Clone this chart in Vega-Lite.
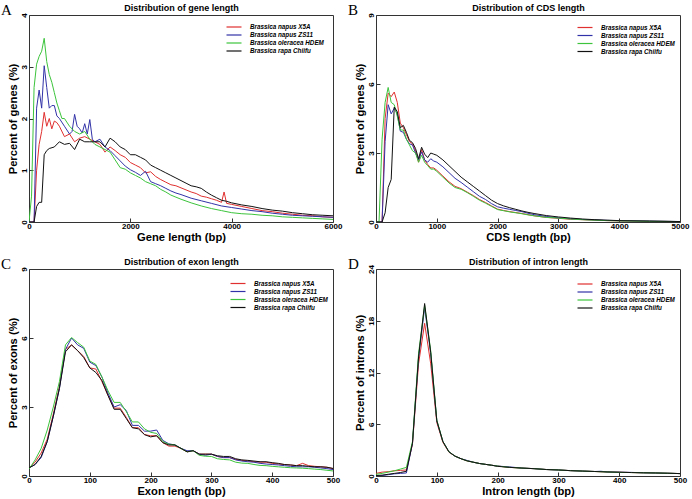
{
  "$schema": "https://vega.github.io/schema/vega-lite/v6.json",
  "background": "white",
  "padding": {"left": 0, "top": 2, "right": 5, "bottom": 5},
  "config": {
    "font": "Liberation Sans",
    "view": {"stroke": "#333333", "strokeWidth": 1},
    "axis": {"labelFont": "Liberation Sans", "labelFontWeight": "bold", "labelFontSize": 8, "labelColor": "#000000", "titleFont": "Liberation Sans", "titleFontWeight": "bold", "titleFontSize": 11.2, "titleColor": "#000000", "grid": false, "domain": false, "tickSize": -4, "tickColor": "#333333", "labelPadding": 4, "labelFlush": false, "labelOverlap": false, "format": "d"},
    "axisY": {"labelAngle": -90, "labelAlign": "center", "labelBaseline": "bottom", "labelPadding": 4.5, "titlePadding": 2},
    "axisX": {"titlePadding": 1},
    "legend": {"orient": "none", "symbolType": "M-2.5,0L2.5,0", "symbolStrokeWidth": 1.2, "symbolSize": 36, "labelFont": "Liberation Sans", "labelFontSize": 6.3, "labelFontWeight": "bold", "labelFontStyle": "italic", "labelColor": "#000000", "padding": 0, "rowPadding": -0.5, "labelOffset": 12},
    "title": {"font": "Liberation Serif", "fontWeight": "normal", "fontSize": 15, "color": "#000000", "anchor": "start", "frame": "group", "offset": 0, "dx": -28, "dy": 18}
  },
  "datasets": {
    "gene": [
      {"s":"X5A","x":0,"y":0},{"s":"X5A","x":100,"y":0},{"s":"X5A","x":150,"y":1.0},{"s":"X5A","x":200,"y":1.5},{"s":"X5A","x":250,"y":1.75},{"s":"X5A","x":300,"y":2.12},{"s":"X5A","x":350,"y":1.85},{"s":"X5A","x":400,"y":2.0},{"s":"X5A","x":450,"y":1.8},{"s":"X5A","x":500,"y":1.95},{"s":"X5A","x":550,"y":1.92},{"s":"X5A","x":600,"y":1.85},{"s":"X5A","x":700,"y":1.65},{"s":"X5A","x":800,"y":1.7},{"s":"X5A","x":900,"y":1.55},{"s":"X5A","x":1000,"y":1.62},{"s":"X5A","x":1100,"y":1.65},{"s":"X5A","x":1200,"y":1.6},{"s":"X5A","x":1300,"y":1.55},{"s":"X5A","x":1400,"y":1.5},{"s":"X5A","x":1500,"y":1.35},{"s":"X5A","x":1600,"y":1.45},{"s":"X5A","x":1700,"y":1.38},{"s":"X5A","x":1800,"y":1.3},{"s":"X5A","x":1900,"y":1.25},{"s":"X5A","x":2000,"y":1.15},{"s":"X5A","x":2100,"y":1.1},{"s":"X5A","x":2200,"y":1.05},{"s":"X5A","x":2300,"y":0.95},{"s":"X5A","x":2400,"y":0.97},{"s":"X5A","x":2500,"y":0.88},{"s":"X5A","x":2600,"y":0.82},{"s":"X5A","x":2700,"y":0.77},{"s":"X5A","x":2800,"y":0.72},{"s":"X5A","x":2900,"y":0.7},{"s":"X5A","x":3000,"y":0.66},{"s":"X5A","x":3100,"y":0.62},{"s":"X5A","x":3200,"y":0.58},{"s":"X5A","x":3300,"y":0.55},{"s":"X5A","x":3400,"y":0.5},{"s":"X5A","x":3500,"y":0.48},{"s":"X5A","x":3600,"y":0.45},{"s":"X5A","x":3700,"y":0.42},{"s":"X5A","x":3800,"y":0.38},{"s":"X5A","x":3850,"y":0.58},{"s":"X5A","x":3900,"y":0.36},{"s":"X5A","x":4000,"y":0.34},{"s":"X5A","x":4200,"y":0.3},{"s":"X5A","x":4400,"y":0.26},{"s":"X5A","x":4600,"y":0.22},{"s":"X5A","x":4800,"y":0.2},{"s":"X5A","x":5000,"y":0.17},{"s":"X5A","x":5200,"y":0.15},{"s":"X5A","x":5400,"y":0.13},{"s":"X5A","x":5600,"y":0.12},{"s":"X5A","x":5800,"y":0.1},{"s":"X5A","x":6000,"y":0.09},
      {"s":"ZS11","x":0,"y":0},{"s":"ZS11","x":100,"y":0},{"s":"ZS11","x":150,"y":2.2},{"s":"ZS11","x":200,"y":2.55},{"s":"ZS11","x":250,"y":2.2},{"s":"ZS11","x":300,"y":3.02},{"s":"ZS11","x":350,"y":2.6},{"s":"ZS11","x":400,"y":2.2},{"s":"ZS11","x":450,"y":2.25},{"s":"ZS11","x":500,"y":2.25},{"s":"ZS11","x":550,"y":2.05},{"s":"ZS11","x":600,"y":2.0},{"s":"ZS11","x":700,"y":1.85},{"s":"ZS11","x":800,"y":1.7},{"s":"ZS11","x":850,"y":1.75},{"s":"ZS11","x":900,"y":2.08},{"s":"ZS11","x":950,"y":1.85},{"s":"ZS11","x":1000,"y":1.8},{"s":"ZS11","x":1050,"y":1.72},{"s":"ZS11","x":1100,"y":1.9},{"s":"ZS11","x":1150,"y":1.7},{"s":"ZS11","x":1200,"y":1.98},{"s":"ZS11","x":1250,"y":1.6},{"s":"ZS11","x":1300,"y":1.55},{"s":"ZS11","x":1400,"y":1.6},{"s":"ZS11","x":1500,"y":1.45},{"s":"ZS11","x":1600,"y":1.38},{"s":"ZS11","x":1700,"y":1.28},{"s":"ZS11","x":1800,"y":1.18},{"s":"ZS11","x":1900,"y":1.08},{"s":"ZS11","x":2000,"y":1.01},{"s":"ZS11","x":2100,"y":0.96},{"s":"ZS11","x":2200,"y":0.9},{"s":"ZS11","x":2300,"y":0.98},{"s":"ZS11","x":2400,"y":0.78},{"s":"ZS11","x":2500,"y":0.74},{"s":"ZS11","x":2600,"y":0.7},{"s":"ZS11","x":2700,"y":0.65},{"s":"ZS11","x":2800,"y":0.6},{"s":"ZS11","x":2900,"y":0.56},{"s":"ZS11","x":3000,"y":0.53},{"s":"ZS11","x":3200,"y":0.46},{"s":"ZS11","x":3400,"y":0.41},{"s":"ZS11","x":3600,"y":0.36},{"s":"ZS11","x":3800,"y":0.31},{"s":"ZS11","x":4000,"y":0.28},{"s":"ZS11","x":4200,"y":0.25},{"s":"ZS11","x":4400,"y":0.22},{"s":"ZS11","x":4600,"y":0.2},{"s":"ZS11","x":4800,"y":0.17},{"s":"ZS11","x":5000,"y":0.15},{"s":"ZS11","x":5200,"y":0.13},{"s":"ZS11","x":5400,"y":0.12},{"s":"ZS11","x":5600,"y":0.11},{"s":"ZS11","x":5800,"y":0.1},{"s":"ZS11","x":6000,"y":0.09},
      {"s":"HDEM","x":0,"y":0},{"s":"HDEM","x":50,"y":0.5},{"s":"HDEM","x":100,"y":2.6},{"s":"HDEM","x":150,"y":3.05},{"s":"HDEM","x":200,"y":3.2},{"s":"HDEM","x":250,"y":3.3},{"s":"HDEM","x":300,"y":3.55},{"s":"HDEM","x":350,"y":3.1},{"s":"HDEM","x":400,"y":2.85},{"s":"HDEM","x":450,"y":2.7},{"s":"HDEM","x":500,"y":2.5},{"s":"HDEM","x":550,"y":2.3},{"s":"HDEM","x":600,"y":2.15},{"s":"HDEM","x":650,"y":2.0},{"s":"HDEM","x":700,"y":2.0},{"s":"HDEM","x":800,"y":1.85},{"s":"HDEM","x":900,"y":1.75},{"s":"HDEM","x":1000,"y":1.7},{"s":"HDEM","x":1100,"y":1.75},{"s":"HDEM","x":1200,"y":1.6},{"s":"HDEM","x":1300,"y":1.5},{"s":"HDEM","x":1400,"y":1.45},{"s":"HDEM","x":1500,"y":1.4},{"s":"HDEM","x":1600,"y":1.35},{"s":"HDEM","x":1700,"y":1.2},{"s":"HDEM","x":1800,"y":1.05},{"s":"HDEM","x":1900,"y":1.02},{"s":"HDEM","x":2000,"y":0.95},{"s":"HDEM","x":2100,"y":0.9},{"s":"HDEM","x":2200,"y":0.85},{"s":"HDEM","x":2300,"y":0.78},{"s":"HDEM","x":2400,"y":0.74},{"s":"HDEM","x":2500,"y":0.7},{"s":"HDEM","x":2600,"y":0.63},{"s":"HDEM","x":2700,"y":0.58},{"s":"HDEM","x":2800,"y":0.52},{"s":"HDEM","x":2900,"y":0.48},{"s":"HDEM","x":3000,"y":0.44},{"s":"HDEM","x":3200,"y":0.37},{"s":"HDEM","x":3400,"y":0.31},{"s":"HDEM","x":3600,"y":0.26},{"s":"HDEM","x":3800,"y":0.22},{"s":"HDEM","x":4000,"y":0.18},{"s":"HDEM","x":4200,"y":0.16},{"s":"HDEM","x":4400,"y":0.15},{"s":"HDEM","x":4600,"y":0.13},{"s":"HDEM","x":4800,"y":0.12},{"s":"HDEM","x":5000,"y":0.1},{"s":"HDEM","x":5200,"y":0.09},{"s":"HDEM","x":5400,"y":0.08},{"s":"HDEM","x":5600,"y":0.07},{"s":"HDEM","x":5800,"y":0.06},{"s":"HDEM","x":6000,"y":0.05},
      {"s":"Chiifu","x":0,"y":0},{"s":"Chiifu","x":100,"y":0},{"s":"Chiifu","x":150,"y":0.3},{"s":"Chiifu","x":200,"y":0.38},{"s":"Chiifu","x":250,"y":0.38},{"s":"Chiifu","x":300,"y":1.3},{"s":"Chiifu","x":350,"y":1.38},{"s":"Chiifu","x":400,"y":1.42},{"s":"Chiifu","x":500,"y":1.45},{"s":"Chiifu","x":600,"y":1.55},{"s":"Chiifu","x":700,"y":1.5},{"s":"Chiifu","x":800,"y":1.52},{"s":"Chiifu","x":900,"y":1.4},{"s":"Chiifu","x":1000,"y":1.6},{"s":"Chiifu","x":1100,"y":1.55},{"s":"Chiifu","x":1200,"y":1.55},{"s":"Chiifu","x":1300,"y":1.55},{"s":"Chiifu","x":1400,"y":1.55},{"s":"Chiifu","x":1500,"y":1.45},{"s":"Chiifu","x":1600,"y":1.62},{"s":"Chiifu","x":1700,"y":1.55},{"s":"Chiifu","x":1800,"y":1.45},{"s":"Chiifu","x":1900,"y":1.4},{"s":"Chiifu","x":2000,"y":1.3},{"s":"Chiifu","x":2100,"y":1.3},{"s":"Chiifu","x":2200,"y":1.25},{"s":"Chiifu","x":2300,"y":1.2},{"s":"Chiifu","x":2400,"y":1.1},{"s":"Chiifu","x":2500,"y":1.05},{"s":"Chiifu","x":2600,"y":1.0},{"s":"Chiifu","x":2700,"y":0.95},{"s":"Chiifu","x":2800,"y":0.9},{"s":"Chiifu","x":2900,"y":0.85},{"s":"Chiifu","x":3000,"y":0.8},{"s":"Chiifu","x":3100,"y":0.75},{"s":"Chiifu","x":3200,"y":0.7},{"s":"Chiifu","x":3300,"y":0.68},{"s":"Chiifu","x":3400,"y":0.65},{"s":"Chiifu","x":3500,"y":0.58},{"s":"Chiifu","x":3600,"y":0.52},{"s":"Chiifu","x":3700,"y":0.47},{"s":"Chiifu","x":3800,"y":0.42},{"s":"Chiifu","x":3900,"y":0.4},{"s":"Chiifu","x":4000,"y":0.37},{"s":"Chiifu","x":4200,"y":0.33},{"s":"Chiifu","x":4400,"y":0.3},{"s":"Chiifu","x":4600,"y":0.26},{"s":"Chiifu","x":4800,"y":0.23},{"s":"Chiifu","x":5000,"y":0.21},{"s":"Chiifu","x":5200,"y":0.18},{"s":"Chiifu","x":5400,"y":0.16},{"s":"Chiifu","x":5600,"y":0.14},{"s":"Chiifu","x":5800,"y":0.13},{"s":"Chiifu","x":6000,"y":0.12}
    ],
    "cds": [
      {"s":"X5A","x":0,"y":0},{"s":"X5A","x":100,"y":0},{"s":"X5A","x":150,"y":4.5},{"s":"X5A","x":200,"y":5.6},{"s":"X5A","x":250,"y":5.45},{"s":"X5A","x":300,"y":5.65},{"s":"X5A","x":350,"y":5.2},{"s":"X5A","x":400,"y":4.3},{"s":"X5A","x":450,"y":4.1},{"s":"X5A","x":500,"y":3.8},{"s":"X5A","x":550,"y":3.5},{"s":"X5A","x":600,"y":3.4},{"s":"X5A","x":650,"y":3.1},{"s":"X5A","x":700,"y":2.6},{"s":"X5A","x":750,"y":3.15},{"s":"X5A","x":800,"y":2.7},{"s":"X5A","x":850,"y":2.5},{"s":"X5A","x":900,"y":2.35},{"s":"X5A","x":950,"y":2.35},{"s":"X5A","x":1000,"y":2.25},{"s":"X5A","x":1100,"y":2.0},{"s":"X5A","x":1200,"y":1.75},{"s":"X5A","x":1300,"y":1.55},{"s":"X5A","x":1400,"y":1.45},{"s":"X5A","x":1500,"y":1.3},{"s":"X5A","x":1600,"y":1.15},{"s":"X5A","x":1700,"y":0.98},{"s":"X5A","x":1800,"y":0.85},{"s":"X5A","x":1900,"y":0.7},{"s":"X5A","x":2000,"y":0.56},{"s":"X5A","x":2100,"y":0.5},{"s":"X5A","x":2200,"y":0.45},{"s":"X5A","x":2300,"y":0.41},{"s":"X5A","x":2400,"y":0.37},{"s":"X5A","x":2500,"y":0.32},{"s":"X5A","x":2600,"y":0.27},{"s":"X5A","x":2800,"y":0.2},{"s":"X5A","x":3000,"y":0.16},{"s":"X5A","x":3200,"y":0.12},{"s":"X5A","x":3400,"y":0.1},{"s":"X5A","x":3600,"y":0.08},{"s":"X5A","x":3800,"y":0.06},{"s":"X5A","x":4000,"y":0.05},{"s":"X5A","x":4500,"y":0.03},{"s":"X5A","x":5000,"y":0.02},
      {"s":"ZS11","x":0,"y":0},{"s":"ZS11","x":100,"y":0},{"s":"ZS11","x":150,"y":3.5},{"s":"ZS11","x":200,"y":5.1},{"s":"ZS11","x":250,"y":4.7},{"s":"ZS11","x":300,"y":4.95},{"s":"ZS11","x":350,"y":4.7},{"s":"ZS11","x":400,"y":3.95},{"s":"ZS11","x":450,"y":3.9},{"s":"ZS11","x":500,"y":3.6},{"s":"ZS11","x":550,"y":3.4},{"s":"ZS11","x":600,"y":3.35},{"s":"ZS11","x":650,"y":3.0},{"s":"ZS11","x":700,"y":2.7},{"s":"ZS11","x":750,"y":3.05},{"s":"ZS11","x":800,"y":2.7},{"s":"ZS11","x":850,"y":2.6},{"s":"ZS11","x":900,"y":2.75},{"s":"ZS11","x":950,"y":2.65},{"s":"ZS11","x":1000,"y":2.6},{"s":"ZS11","x":1100,"y":2.4},{"s":"ZS11","x":1200,"y":2.15},{"s":"ZS11","x":1300,"y":1.9},{"s":"ZS11","x":1400,"y":1.72},{"s":"ZS11","x":1500,"y":1.52},{"s":"ZS11","x":1600,"y":1.32},{"s":"ZS11","x":1700,"y":1.12},{"s":"ZS11","x":1800,"y":0.98},{"s":"ZS11","x":1900,"y":0.8},{"s":"ZS11","x":2000,"y":0.66},{"s":"ZS11","x":2100,"y":0.6},{"s":"ZS11","x":2200,"y":0.55},{"s":"ZS11","x":2300,"y":0.5},{"s":"ZS11","x":2400,"y":0.45},{"s":"ZS11","x":2500,"y":0.38},{"s":"ZS11","x":2600,"y":0.32},{"s":"ZS11","x":2800,"y":0.24},{"s":"ZS11","x":3000,"y":0.18},{"s":"ZS11","x":3200,"y":0.14},{"s":"ZS11","x":3400,"y":0.11},{"s":"ZS11","x":3600,"y":0.09},{"s":"ZS11","x":3800,"y":0.07},{"s":"ZS11","x":4000,"y":0.06},{"s":"ZS11","x":4500,"y":0.04},{"s":"ZS11","x":5000,"y":0.02},
      {"s":"HDEM","x":0,"y":0},{"s":"HDEM","x":50,"y":0},{"s":"HDEM","x":100,"y":3.6},{"s":"HDEM","x":150,"y":5.2},{"s":"HDEM","x":200,"y":5.85},{"s":"HDEM","x":250,"y":5.2},{"s":"HDEM","x":300,"y":5.1},{"s":"HDEM","x":350,"y":4.6},{"s":"HDEM","x":400,"y":4.0},{"s":"HDEM","x":450,"y":4.0},{"s":"HDEM","x":500,"y":3.6},{"s":"HDEM","x":550,"y":3.35},{"s":"HDEM","x":600,"y":3.1},{"s":"HDEM","x":650,"y":3.0},{"s":"HDEM","x":700,"y":2.6},{"s":"HDEM","x":750,"y":2.9},{"s":"HDEM","x":800,"y":2.6},{"s":"HDEM","x":850,"y":2.45},{"s":"HDEM","x":900,"y":2.3},{"s":"HDEM","x":950,"y":2.3},{"s":"HDEM","x":1000,"y":2.2},{"s":"HDEM","x":1100,"y":1.95},{"s":"HDEM","x":1200,"y":1.7},{"s":"HDEM","x":1300,"y":1.5},{"s":"HDEM","x":1400,"y":1.42},{"s":"HDEM","x":1500,"y":1.28},{"s":"HDEM","x":1600,"y":1.12},{"s":"HDEM","x":1700,"y":0.95},{"s":"HDEM","x":1800,"y":0.82},{"s":"HDEM","x":1900,"y":0.68},{"s":"HDEM","x":2000,"y":0.54},{"s":"HDEM","x":2100,"y":0.49},{"s":"HDEM","x":2200,"y":0.44},{"s":"HDEM","x":2300,"y":0.4},{"s":"HDEM","x":2400,"y":0.36},{"s":"HDEM","x":2500,"y":0.31},{"s":"HDEM","x":2600,"y":0.27},{"s":"HDEM","x":2800,"y":0.2},{"s":"HDEM","x":3000,"y":0.17},{"s":"HDEM","x":3200,"y":0.13},{"s":"HDEM","x":3400,"y":0.1},{"s":"HDEM","x":3600,"y":0.08},{"s":"HDEM","x":3800,"y":0.06},{"s":"HDEM","x":4000,"y":0.05},{"s":"HDEM","x":4500,"y":0.03},{"s":"HDEM","x":5000,"y":0.02},
      {"s":"Chiifu","x":0,"y":0},{"s":"Chiifu","x":100,"y":0},{"s":"Chiifu","x":150,"y":0.4},{"s":"Chiifu","x":200,"y":1.5},{"s":"Chiifu","x":250,"y":1.85},{"s":"Chiifu","x":300,"y":5.0},{"s":"Chiifu","x":350,"y":4.8},{"s":"Chiifu","x":400,"y":4.1},{"s":"Chiifu","x":450,"y":4.2},{"s":"Chiifu","x":500,"y":3.9},{"s":"Chiifu","x":550,"y":3.55},{"s":"Chiifu","x":600,"y":3.45},{"s":"Chiifu","x":650,"y":3.2},{"s":"Chiifu","x":700,"y":2.75},{"s":"Chiifu","x":750,"y":3.25},{"s":"Chiifu","x":800,"y":2.95},{"s":"Chiifu","x":850,"y":2.8},{"s":"Chiifu","x":900,"y":3.0},{"s":"Chiifu","x":950,"y":2.95},{"s":"Chiifu","x":1000,"y":2.9},{"s":"Chiifu","x":1100,"y":2.7},{"s":"Chiifu","x":1200,"y":2.45},{"s":"Chiifu","x":1300,"y":2.2},{"s":"Chiifu","x":1400,"y":1.95},{"s":"Chiifu","x":1500,"y":1.75},{"s":"Chiifu","x":1600,"y":1.55},{"s":"Chiifu","x":1700,"y":1.35},{"s":"Chiifu","x":1800,"y":1.15},{"s":"Chiifu","x":1900,"y":0.95},{"s":"Chiifu","x":2000,"y":0.8},{"s":"Chiifu","x":2100,"y":0.7},{"s":"Chiifu","x":2200,"y":0.62},{"s":"Chiifu","x":2300,"y":0.55},{"s":"Chiifu","x":2400,"y":0.48},{"s":"Chiifu","x":2500,"y":0.42},{"s":"Chiifu","x":2600,"y":0.37},{"s":"Chiifu","x":2800,"y":0.28},{"s":"Chiifu","x":3000,"y":0.22},{"s":"Chiifu","x":3200,"y":0.17},{"s":"Chiifu","x":3400,"y":0.13},{"s":"Chiifu","x":3600,"y":0.1},{"s":"Chiifu","x":3800,"y":0.08},{"s":"Chiifu","x":4000,"y":0.06},{"s":"Chiifu","x":4500,"y":0.04},{"s":"Chiifu","x":5000,"y":0.02}
    ],
    "exon": [
      {"s":"X5A","x":0,"y":0.35},{"s":"X5A","x":10,"y":0.6},{"s":"X5A","x":20,"y":1.0},{"s":"X5A","x":30,"y":1.6},{"s":"X5A","x":40,"y":2.7},{"s":"X5A","x":50,"y":3.9},{"s":"X5A","x":60,"y":5.5},{"s":"X5A","x":70,"y":5.7},{"s":"X5A","x":80,"y":5.45},{"s":"X5A","x":90,"y":5.2},{"s":"X5A","x":100,"y":4.7},{"s":"X5A","x":110,"y":4.65},{"s":"X5A","x":120,"y":4.1},{"s":"X5A","x":130,"y":3.5},{"s":"X5A","x":140,"y":2.95},{"s":"X5A","x":150,"y":2.95},{"s":"X5A","x":160,"y":2.55},{"s":"X5A","x":170,"y":2.1},{"s":"X5A","x":180,"y":2.1},{"s":"X5A","x":190,"y":1.8},{"s":"X5A","x":200,"y":1.75},{"s":"X5A","x":210,"y":1.75},{"s":"X5A","x":220,"y":1.45},{"s":"X5A","x":230,"y":1.3},{"s":"X5A","x":240,"y":1.3},{"s":"X5A","x":250,"y":1.2},{"s":"X5A","x":260,"y":1.05},{"s":"X5A","x":270,"y":1.1},{"s":"X5A","x":280,"y":0.95},{"s":"X5A","x":290,"y":0.95},{"s":"X5A","x":300,"y":0.95},{"s":"X5A","x":310,"y":0.85},{"s":"X5A","x":320,"y":0.8},{"s":"X5A","x":330,"y":0.8},{"s":"X5A","x":340,"y":0.72},{"s":"X5A","x":350,"y":0.68},{"s":"X5A","x":360,"y":0.65},{"s":"X5A","x":370,"y":0.62},{"s":"X5A","x":380,"y":0.6},{"s":"X5A","x":390,"y":0.6},{"s":"X5A","x":400,"y":0.55},{"s":"X5A","x":410,"y":0.52},{"s":"X5A","x":420,"y":0.5},{"s":"X5A","x":430,"y":0.48},{"s":"X5A","x":440,"y":0.45},{"s":"X5A","x":450,"y":0.55},{"s":"X5A","x":460,"y":0.45},{"s":"X5A","x":470,"y":0.42},{"s":"X5A","x":480,"y":0.4},{"s":"X5A","x":490,"y":0.38},{"s":"X5A","x":500,"y":0.32},
      {"s":"ZS11","x":0,"y":0.35},{"s":"ZS11","x":10,"y":0.5},{"s":"ZS11","x":20,"y":0.8},{"s":"ZS11","x":30,"y":1.5},{"s":"ZS11","x":40,"y":2.6},{"s":"ZS11","x":50,"y":3.8},{"s":"ZS11","x":60,"y":5.5},{"s":"ZS11","x":70,"y":6.0},{"s":"ZS11","x":80,"y":5.7},{"s":"ZS11","x":90,"y":5.55},{"s":"ZS11","x":100,"y":4.95},{"s":"ZS11","x":110,"y":4.8},{"s":"ZS11","x":120,"y":4.3},{"s":"ZS11","x":130,"y":3.6},{"s":"ZS11","x":140,"y":3.0},{"s":"ZS11","x":150,"y":3.1},{"s":"ZS11","x":160,"y":2.85},{"s":"ZS11","x":170,"y":2.2},{"s":"ZS11","x":180,"y":2.2},{"s":"ZS11","x":190,"y":1.95},{"s":"ZS11","x":200,"y":1.95},{"s":"ZS11","x":210,"y":2.0},{"s":"ZS11","x":220,"y":1.55},{"s":"ZS11","x":230,"y":1.4},{"s":"ZS11","x":240,"y":1.35},{"s":"ZS11","x":250,"y":1.2},{"s":"ZS11","x":260,"y":1.1},{"s":"ZS11","x":270,"y":1.1},{"s":"ZS11","x":280,"y":0.95},{"s":"ZS11","x":290,"y":0.9},{"s":"ZS11","x":300,"y":0.95},{"s":"ZS11","x":310,"y":0.85},{"s":"ZS11","x":320,"y":0.8},{"s":"ZS11","x":330,"y":0.8},{"s":"ZS11","x":340,"y":0.7},{"s":"ZS11","x":350,"y":0.65},{"s":"ZS11","x":360,"y":0.62},{"s":"ZS11","x":370,"y":0.6},{"s":"ZS11","x":380,"y":0.55},{"s":"ZS11","x":390,"y":0.52},{"s":"ZS11","x":400,"y":0.5},{"s":"ZS11","x":410,"y":0.48},{"s":"ZS11","x":420,"y":0.45},{"s":"ZS11","x":430,"y":0.42},{"s":"ZS11","x":440,"y":0.4},{"s":"ZS11","x":450,"y":0.4},{"s":"ZS11","x":460,"y":0.4},{"s":"ZS11","x":470,"y":0.38},{"s":"ZS11","x":480,"y":0.35},{"s":"ZS11","x":490,"y":0.32},{"s":"ZS11","x":500,"y":0.28},
      {"s":"HDEM","x":0,"y":0.3},{"s":"HDEM","x":10,"y":0.7},{"s":"HDEM","x":20,"y":1.2},{"s":"HDEM","x":30,"y":2.0},{"s":"HDEM","x":40,"y":3.0},{"s":"HDEM","x":50,"y":4.1},{"s":"HDEM","x":60,"y":5.7},{"s":"HDEM","x":70,"y":6.02},{"s":"HDEM","x":80,"y":5.8},{"s":"HDEM","x":90,"y":5.6},{"s":"HDEM","x":100,"y":5.0},{"s":"HDEM","x":110,"y":4.85},{"s":"HDEM","x":120,"y":4.3},{"s":"HDEM","x":130,"y":3.7},{"s":"HDEM","x":140,"y":3.2},{"s":"HDEM","x":150,"y":3.2},{"s":"HDEM","x":160,"y":2.8},{"s":"HDEM","x":170,"y":2.35},{"s":"HDEM","x":180,"y":2.35},{"s":"HDEM","x":190,"y":2.05},{"s":"HDEM","x":200,"y":1.9},{"s":"HDEM","x":210,"y":1.85},{"s":"HDEM","x":220,"y":1.5},{"s":"HDEM","x":230,"y":1.38},{"s":"HDEM","x":240,"y":1.35},{"s":"HDEM","x":250,"y":1.2},{"s":"HDEM","x":260,"y":1.05},{"s":"HDEM","x":270,"y":1.1},{"s":"HDEM","x":280,"y":0.9},{"s":"HDEM","x":290,"y":0.86},{"s":"HDEM","x":300,"y":0.85},{"s":"HDEM","x":310,"y":0.75},{"s":"HDEM","x":320,"y":0.72},{"s":"HDEM","x":330,"y":0.7},{"s":"HDEM","x":340,"y":0.6},{"s":"HDEM","x":350,"y":0.56},{"s":"HDEM","x":360,"y":0.55},{"s":"HDEM","x":370,"y":0.5},{"s":"HDEM","x":380,"y":0.46},{"s":"HDEM","x":390,"y":0.45},{"s":"HDEM","x":400,"y":0.42},{"s":"HDEM","x":410,"y":0.4},{"s":"HDEM","x":420,"y":0.38},{"s":"HDEM","x":430,"y":0.36},{"s":"HDEM","x":440,"y":0.35},{"s":"HDEM","x":450,"y":0.34},{"s":"HDEM","x":460,"y":0.32},{"s":"HDEM","x":470,"y":0.3},{"s":"HDEM","x":480,"y":0.28},{"s":"HDEM","x":490,"y":0.25},{"s":"HDEM","x":500,"y":0.22},
      {"s":"Chiifu","x":0,"y":0.35},{"s":"Chiifu","x":10,"y":0.5},{"s":"Chiifu","x":20,"y":0.85},{"s":"Chiifu","x":30,"y":1.5},{"s":"Chiifu","x":40,"y":2.6},{"s":"Chiifu","x":50,"y":3.8},{"s":"Chiifu","x":60,"y":5.4},{"s":"Chiifu","x":70,"y":5.7},{"s":"Chiifu","x":80,"y":5.45},{"s":"Chiifu","x":90,"y":5.15},{"s":"Chiifu","x":100,"y":4.7},{"s":"Chiifu","x":110,"y":4.5},{"s":"Chiifu","x":120,"y":4.15},{"s":"Chiifu","x":130,"y":3.5},{"s":"Chiifu","x":140,"y":2.9},{"s":"Chiifu","x":150,"y":2.9},{"s":"Chiifu","x":160,"y":2.5},{"s":"Chiifu","x":170,"y":2.1},{"s":"Chiifu","x":180,"y":2.05},{"s":"Chiifu","x":190,"y":1.8},{"s":"Chiifu","x":200,"y":1.7},{"s":"Chiifu","x":210,"y":1.75},{"s":"Chiifu","x":220,"y":1.45},{"s":"Chiifu","x":230,"y":1.35},{"s":"Chiifu","x":240,"y":1.35},{"s":"Chiifu","x":250,"y":1.2},{"s":"Chiifu","x":260,"y":1.05},{"s":"Chiifu","x":270,"y":1.1},{"s":"Chiifu","x":280,"y":0.95},{"s":"Chiifu","x":290,"y":0.95},{"s":"Chiifu","x":300,"y":0.95},{"s":"Chiifu","x":310,"y":0.88},{"s":"Chiifu","x":320,"y":0.85},{"s":"Chiifu","x":330,"y":0.85},{"s":"Chiifu","x":340,"y":0.75},{"s":"Chiifu","x":350,"y":0.7},{"s":"Chiifu","x":360,"y":0.68},{"s":"Chiifu","x":370,"y":0.65},{"s":"Chiifu","x":380,"y":0.62},{"s":"Chiifu","x":390,"y":0.62},{"s":"Chiifu","x":400,"y":0.58},{"s":"Chiifu","x":410,"y":0.55},{"s":"Chiifu","x":420,"y":0.5},{"s":"Chiifu","x":430,"y":0.48},{"s":"Chiifu","x":440,"y":0.45},{"s":"Chiifu","x":450,"y":0.45},{"s":"Chiifu","x":460,"y":0.42},{"s":"Chiifu","x":470,"y":0.4},{"s":"Chiifu","x":480,"y":0.4},{"s":"Chiifu","x":490,"y":0.38},{"s":"Chiifu","x":500,"y":0.33}
    ],
    "intron": [
      {"s":"X5A","x":0,"y":0.3},{"s":"X5A","x":10,"y":0.45},{"s":"X5A","x":20,"y":0.5},{"s":"X5A","x":30,"y":0.6},{"s":"X5A","x":40,"y":0.65},{"s":"X5A","x":50,"y":0.7},{"s":"X5A","x":60,"y":3.7},{"s":"X5A","x":70,"y":13.0},{"s":"X5A","x":80,"y":17.7},{"s":"X5A","x":90,"y":13.0},{"s":"X5A","x":100,"y":6.2},{"s":"X5A","x":110,"y":3.9},{"s":"X5A","x":120,"y":2.75},{"s":"X5A","x":130,"y":2.3},{"s":"X5A","x":140,"y":2.0},{"s":"X5A","x":150,"y":1.75},{"s":"X5A","x":160,"y":1.6},{"s":"X5A","x":170,"y":1.45},{"s":"X5A","x":180,"y":1.35},{"s":"X5A","x":190,"y":1.25},{"s":"X5A","x":200,"y":1.15},{"s":"X5A","x":220,"y":1.0},{"s":"X5A","x":240,"y":0.92},{"s":"X5A","x":260,"y":0.85},{"s":"X5A","x":280,"y":0.75},{"s":"X5A","x":300,"y":0.7},{"s":"X5A","x":320,"y":0.62},{"s":"X5A","x":340,"y":0.57},{"s":"X5A","x":360,"y":0.52},{"s":"X5A","x":380,"y":0.47},{"s":"X5A","x":400,"y":0.44},{"s":"X5A","x":420,"y":0.4},{"s":"X5A","x":440,"y":0.37},{"s":"X5A","x":460,"y":0.35},{"s":"X5A","x":480,"y":0.32},{"s":"X5A","x":500,"y":0.28},
      {"s":"ZS11","x":0,"y":0},{"s":"ZS11","x":10,"y":0.05},{"s":"ZS11","x":20,"y":0.15},{"s":"ZS11","x":30,"y":0.25},{"s":"ZS11","x":40,"y":0.3},{"s":"ZS11","x":50,"y":0.35},{"s":"ZS11","x":60,"y":3.8},{"s":"ZS11","x":70,"y":13.7},{"s":"ZS11","x":80,"y":19.5},{"s":"ZS11","x":90,"y":14.2},{"s":"ZS11","x":100,"y":6.4},{"s":"ZS11","x":110,"y":4.0},{"s":"ZS11","x":120,"y":2.8},{"s":"ZS11","x":130,"y":2.3},{"s":"ZS11","x":140,"y":2.0},{"s":"ZS11","x":150,"y":1.8},{"s":"ZS11","x":160,"y":1.6},{"s":"ZS11","x":170,"y":1.45},{"s":"ZS11","x":180,"y":1.35},{"s":"ZS11","x":190,"y":1.25},{"s":"ZS11","x":200,"y":1.15},{"s":"ZS11","x":220,"y":1.05},{"s":"ZS11","x":240,"y":0.92},{"s":"ZS11","x":260,"y":0.85},{"s":"ZS11","x":280,"y":0.75},{"s":"ZS11","x":300,"y":0.7},{"s":"ZS11","x":320,"y":0.62},{"s":"ZS11","x":340,"y":0.57},{"s":"ZS11","x":360,"y":0.52},{"s":"ZS11","x":370,"y":0.55},{"s":"ZS11","x":380,"y":0.47},{"s":"ZS11","x":400,"y":0.44},{"s":"ZS11","x":420,"y":0.42},{"s":"ZS11","x":440,"y":0.37},{"s":"ZS11","x":460,"y":0.35},{"s":"ZS11","x":480,"y":0.32},{"s":"ZS11","x":500,"y":0.28},
      {"s":"HDEM","x":0,"y":0.2},{"s":"HDEM","x":10,"y":0.3},{"s":"HDEM","x":20,"y":0.45},{"s":"HDEM","x":30,"y":0.6},{"s":"HDEM","x":40,"y":0.8},{"s":"HDEM","x":50,"y":1.0},{"s":"HDEM","x":60,"y":4.0},{"s":"HDEM","x":70,"y":14.2},{"s":"HDEM","x":80,"y":19.8},{"s":"HDEM","x":90,"y":14.5},{"s":"HDEM","x":100,"y":6.5},{"s":"HDEM","x":110,"y":4.0},{"s":"HDEM","x":120,"y":2.8},{"s":"HDEM","x":130,"y":2.3},{"s":"HDEM","x":140,"y":2.0},{"s":"HDEM","x":150,"y":1.75},{"s":"HDEM","x":160,"y":1.6},{"s":"HDEM","x":170,"y":1.45},{"s":"HDEM","x":180,"y":1.35},{"s":"HDEM","x":190,"y":1.25},{"s":"HDEM","x":200,"y":1.15},{"s":"HDEM","x":220,"y":1.0},{"s":"HDEM","x":240,"y":0.92},{"s":"HDEM","x":260,"y":0.85},{"s":"HDEM","x":280,"y":0.75},{"s":"HDEM","x":300,"y":0.7},{"s":"HDEM","x":320,"y":0.62},{"s":"HDEM","x":340,"y":0.57},{"s":"HDEM","x":360,"y":0.52},{"s":"HDEM","x":380,"y":0.47},{"s":"HDEM","x":400,"y":0.42},{"s":"HDEM","x":420,"y":0.4},{"s":"HDEM","x":440,"y":0.37},{"s":"HDEM","x":460,"y":0.35},{"s":"HDEM","x":480,"y":0.32},{"s":"HDEM","x":500,"y":0.28},
      {"s":"Chiifu","x":0,"y":0.05},{"s":"Chiifu","x":10,"y":0.1},{"s":"Chiifu","x":20,"y":0.2},{"s":"Chiifu","x":30,"y":0.3},{"s":"Chiifu","x":40,"y":0.4},{"s":"Chiifu","x":50,"y":0.55},{"s":"Chiifu","x":60,"y":3.8},{"s":"Chiifu","x":70,"y":13.8},{"s":"Chiifu","x":80,"y":20.0},{"s":"Chiifu","x":90,"y":14.3},{"s":"Chiifu","x":100,"y":6.4},{"s":"Chiifu","x":110,"y":4.0},{"s":"Chiifu","x":120,"y":2.8},{"s":"Chiifu","x":130,"y":2.3},{"s":"Chiifu","x":140,"y":2.0},{"s":"Chiifu","x":150,"y":1.75},{"s":"Chiifu","x":160,"y":1.6},{"s":"Chiifu","x":170,"y":1.45},{"s":"Chiifu","x":180,"y":1.35},{"s":"Chiifu","x":190,"y":1.25},{"s":"Chiifu","x":200,"y":1.12},{"s":"Chiifu","x":220,"y":1.0},{"s":"Chiifu","x":240,"y":0.92},{"s":"Chiifu","x":260,"y":0.85},{"s":"Chiifu","x":280,"y":0.75},{"s":"Chiifu","x":300,"y":0.7},{"s":"Chiifu","x":320,"y":0.62},{"s":"Chiifu","x":340,"y":0.57},{"s":"Chiifu","x":360,"y":0.52},{"s":"Chiifu","x":380,"y":0.47},{"s":"Chiifu","x":400,"y":0.44},{"s":"Chiifu","x":420,"y":0.4},{"s":"Chiifu","x":440,"y":0.37},{"s":"Chiifu","x":460,"y":0.35},{"s":"Chiifu","x":480,"y":0.32},{"s":"Chiifu","x":500,"y":0.28}
    ]
  },
  "columns": 2,
  "spacing": {"row": 47, "column": 43},
  "bounds": "flush",
  "resolve": {"legend": {"color": "independent"}},
  "concat": [
    {
      "data": {"name": "gene"},
      "width": 304, "height": 207,
      "title": {"text": "A"},
      "layer": [
        {"mark": {"type": "line", "strokeWidth": 1, "clip": true},
         "encoding": {
           "x": {"field": "x", "type": "quantitative", "scale": {"domain": [0, 6000], "nice": false, "zero": false}, "axis": {"values": [0, 2000, 4000, 6000], "title": "Gene length (bp)"}},
           "y": {"field": "y", "type": "quantitative", "scale": {"domain": [0, 4], "nice": false}, "axis": {"values": [0, 1, 2, 3, 4], "title": "Percent of genes (%)"}},
           "color": {"field": "s", "type": "nominal", "scale": {"domain": ["X5A", "ZS11", "HDEM", "Chiifu"], "range": ["#e0302f", "#3232a8", "#3cc43c", "#111111"]},
             "legend": {"title": null, "legendX": 201, "legendY": 8, "labelExpr": "datum.label == 'X5A' ? 'Brassica napus  X5A' : datum.label == 'ZS11' ? 'Brassica napus ZS11' : datum.label == 'HDEM' ? 'Brassica oleracea HDEM' : 'Brassica rapa Chiifu'"}}
         }},
        {"data": {"values": [{}]}, "mark": {"type": "rule", "opacity": 0},
         "encoding": {"x": {"datum": 0, "type": "quantitative", "axis": {"orient": "top", "title": "Distribution of gene length", "titleFontSize": 9, "titlePadding": 2.5, "labels": false, "ticks": false, "domain": false, "grid": false}}}}
      ],
      "resolve": {"axis": {"x": "independent"}}
    },
    {
      "data": {"name": "cds"},
      "width": 304, "height": 207,
      "title": {"text": "B"},
      "layer": [
        {"mark": {"type": "line", "strokeWidth": 1, "clip": true},
         "encoding": {
           "x": {"field": "x", "type": "quantitative", "scale": {"domain": [0, 5000], "nice": false, "zero": false}, "axis": {"values": [0, 1000, 2000, 3000, 4000, 5000], "title": "CDS length (bp)"}},
           "y": {"field": "y", "type": "quantitative", "scale": {"domain": [0, 9], "nice": false}, "axis": {"values": [0, 3, 6, 9], "title": "Percent of genes (%)"}},
           "color": {"field": "s", "type": "nominal", "scale": {"domain": ["X5A", "ZS11", "HDEM", "Chiifu"], "range": ["#e0302f", "#3232a8", "#3cc43c", "#111111"]},
             "legend": {"title": null, "legendX": 205, "legendY": 8.5, "labelExpr": "datum.label == 'X5A' ? 'Brassica napus X5A' : datum.label == 'ZS11' ? 'Brassica napus ZS11' : datum.label == 'HDEM' ? 'Brassica oleracea HDEM' : 'Brassica rapa Chiifu'"}}
         }},
        {"data": {"values": [{}]}, "mark": {"type": "rule", "opacity": 0},
         "encoding": {"x": {"datum": 0, "type": "quantitative", "axis": {"orient": "top", "title": "Distribution of CDS length", "titleFontSize": 9, "titlePadding": 2.5, "labels": false, "ticks": false, "domain": false, "grid": false}}}}
      ],
      "resolve": {"axis": {"x": "independent"}}
    },
    {
      "data": {"name": "exon"},
      "width": 304, "height": 207,
      "title": {"text": "C"},
      "layer": [
        {"mark": {"type": "line", "strokeWidth": 1, "clip": true},
         "encoding": {
           "x": {"field": "x", "type": "quantitative", "scale": {"domain": [0, 500], "nice": false, "zero": false}, "axis": {"values": [0, 100, 200, 300, 400, 500], "title": "Exon length (bp)"}},
           "y": {"field": "y", "type": "quantitative", "scale": {"domain": [0, 9], "nice": false}, "axis": {"values": [0, 3, 6, 9], "title": "Percent of exons (%)"}},
           "color": {"field": "s", "type": "nominal", "scale": {"domain": ["X5A", "ZS11", "HDEM", "Chiifu"], "range": ["#e0302f", "#3232a8", "#3cc43c", "#111111"]},
             "legend": {"title": null, "legendX": 205, "legendY": 10.5, "labelExpr": "datum.label == 'X5A' ? 'Brassica napus X5A' : datum.label == 'ZS11' ? 'Brassica napus ZS11' : datum.label == 'HDEM' ? 'Brassica oleracea HDEM' : 'Brassica rapa Chiifu'"}}
         }},
        {"data": {"values": [{}]}, "mark": {"type": "rule", "opacity": 0},
         "encoding": {"x": {"datum": 0, "type": "quantitative", "axis": {"orient": "top", "title": "Distribution of exon length", "titleFontSize": 9, "titlePadding": 2.5, "labels": false, "ticks": false, "domain": false, "grid": false}}}}
      ],
      "resolve": {"axis": {"x": "independent"}}
    },
    {
      "data": {"name": "intron"},
      "width": 304, "height": 207,
      "title": {"text": "D"},
      "layer": [
        {"mark": {"type": "line", "strokeWidth": 1, "clip": true},
         "encoding": {
           "x": {"field": "x", "type": "quantitative", "scale": {"domain": [0, 500], "nice": false, "zero": false}, "axis": {"values": [0, 100, 200, 300, 400, 500], "title": "Intron length (bp)"}},
           "y": {"field": "y", "type": "quantitative", "scale": {"domain": [0, 24], "nice": false}, "axis": {"values": [0, 6, 12, 18, 24], "title": "Percent of introns (%)"}},
           "color": {"field": "s", "type": "nominal", "scale": {"domain": ["X5A", "ZS11", "HDEM", "Chiifu"], "range": ["#e0302f", "#3232a8", "#3cc43c", "#111111"]},
             "legend": {"title": null, "legendX": 205, "legendY": 11, "labelExpr": "datum.label == 'X5A' ? 'Brassica napus X5A' : datum.label == 'ZS11' ? 'Brassica napus ZS11' : datum.label == 'HDEM' ? 'Brassica oleracea HDEM' : 'Brassica rapa Chiifu'"}}
         }},
        {"data": {"values": [{}]}, "mark": {"type": "rule", "opacity": 0},
         "encoding": {"x": {"datum": 0, "type": "quantitative", "axis": {"orient": "top", "title": "Distribution of intron length", "titleFontSize": 9, "titlePadding": 2.5, "labels": false, "ticks": false, "domain": false, "grid": false}}}}
      ],
      "resolve": {"axis": {"x": "independent"}}
    }
  ]
}
